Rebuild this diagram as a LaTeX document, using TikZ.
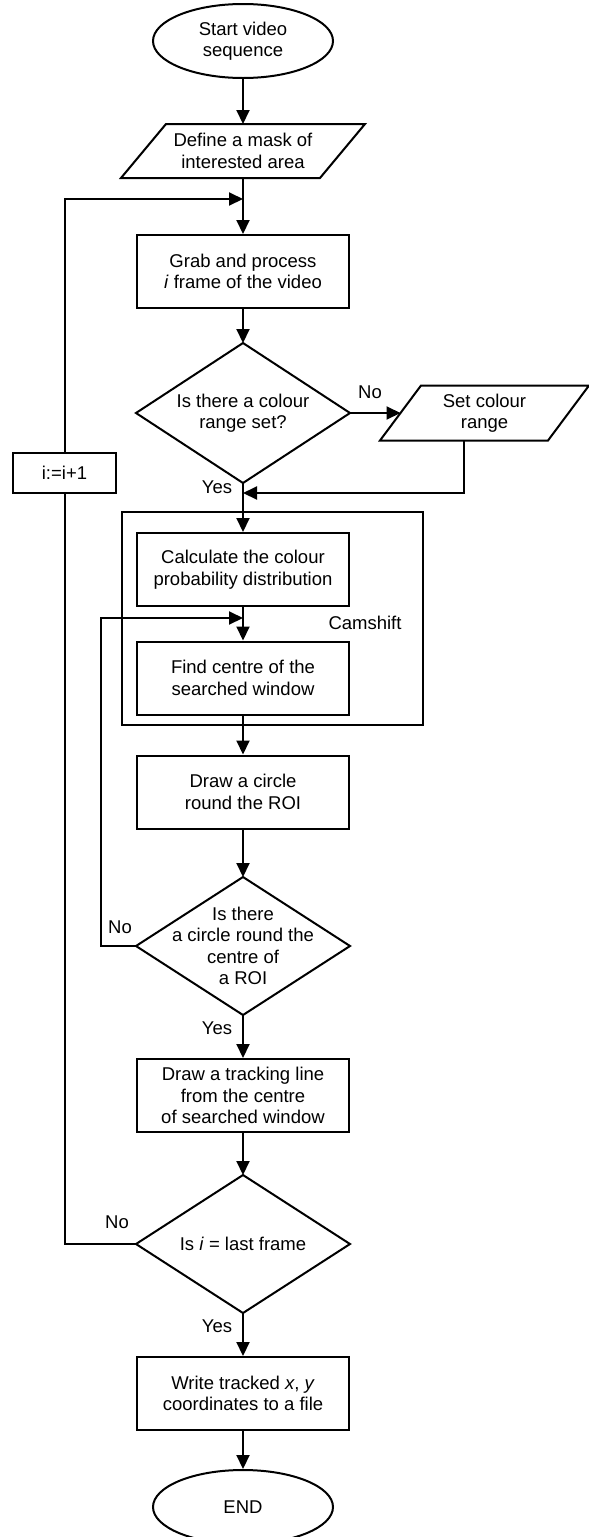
\documentclass[tikz,border=0pt]{standalone}
\usepackage{fontspec}
\setmainfont{Liberation Sans}
\usetikzlibrary{arrows.meta,calc,shapes.geometric}
\begin{document}
\begin{tikzpicture}[x=1pt,y=-1pt, line width=2pt,
  font=\fontsize{18.5}{21.5}\selectfont,
  arr/.style={-{Triangle[length=14pt,width=13pt]}},
  procbox/.style={draw, rectangle, minimum width=212pt, minimum height=73pt, inner sep=0pt, align=center},
  termbox/.style={draw, ellipse, minimum width=180pt, minimum height=74pt, inner sep=0pt, align=center},
  frame/.style={rectangle, inner sep=0pt, align=center},
  lbl/.style={inner sep=0pt}]
\useasboundingbox (0,0) rectangle (589,1537);

% Camshift frame
\node[draw, rectangle, minimum width=301pt, minimum height=213pt, inner sep=0pt] (cam) at (272.5,618.5) {};
\node[lbl] (camlbl) at (365,623) {Camshift};

\node[termbox] (start) at (243,41) {Start video\\sequence};
\node[frame, minimum width=242pt, minimum height=52pt] (mask) at (243,151) {Define a mask of\\interested area};
\draw ($(mask.north west)+(45,0)$) -- (mask.north east) -- ($(mask.south east)+(-45,0)$) -- (mask.south west) -- cycle;

\node[procbox] (grab) at (243,271.5) {Grab and process\\\textit{i} frame of the video};

\node[frame, minimum width=212pt, minimum height=138pt] (d1) at (243,413) {Is there a colour\\range set?};
\draw (d1.north) -- (d1.east) -- (d1.south) -- (d1.west) -- cycle;

\node[frame, minimum width=207pt, minimum height=53pt] (sc) at (484.5,413) {Set colour\\range};
\draw ($(sc.north west)+(41,0)$) -- (sc.north east) -- ($(sc.south east)+(-41,0)$) -- (sc.south west) -- cycle;

\node[procbox] (calc) at (243,569.5) {Calculate the colour\\probability distribution};
\node[procbox] (find) at (243,678) {Find centre of the\\searched window};
\node[procbox] (circ) at (243,792) {Draw a circle\\round the ROI};

\node[frame, minimum width=212pt, minimum height=136pt] (d2) at (243,946) {Is there\\a circle round the\\centre of\\a ROI};
\draw (d2.north) -- (d2.east) -- (d2.south) -- (d2.west) -- cycle;

\node[procbox] (track) at (243,1095.5) {Draw a tracking line\\from the centre\\of searched window};

\node[frame, minimum width=212pt, minimum height=136pt] (d3) at (243,1244) {Is \textit{i} = last frame};
\draw (d3.north) -- (d3.east) -- (d3.south) -- (d3.west) -- cycle;

\node[procbox] (write) at (243,1393.5) {Write tracked \textit{x}, \textit{y}\\coordinates to a file};
\node[termbox] (end) at (243,1507) {END};

\node[draw, rectangle, minimum width=103pt, minimum height=40pt, inner sep=0pt] (inc) at (64.5,473) {i:=i+1};

% labels
\node[lbl] (no1) at (370,392) {No};
\node[lbl] (yes1) at (217,487) {Yes};
\node[lbl] (no2) at (120,927) {No};
\node[lbl] (yes2) at (217,1028) {Yes};
\node[lbl] (no3) at (117,1222) {No};
\node[lbl] (yes3) at (217,1326) {Yes};

% join points
\coordinate (j0) at (243,199);
\coordinate (j1) at (243,493);
\coordinate (j2) at (243,618);
\coordinate (fb) at (101,618);

% connectors
\draw[arr] (start.south) -- (mask.north);
\draw[arr] (mask.south) -- (grab.north);
\draw[arr] (inc.north) |- (j0);
\draw[arr] (grab.south) -- (d1.north);
\draw[arr] (d1.east) -- ($(sc.west)+(20.5,0)$);
\draw[arr] ($(sc.south)+(-20.5,0)$) |- (j1);
\draw[arr] (d1.south) -- (calc.north);
\draw[arr] (calc.south) -- (find.north);
\draw[arr] (d2.west) -| (fb) -- (j2);
\draw[arr] (find.south) -- (circ.north);
\draw[arr] (circ.south) -- (d2.north);
\draw[arr] (d2.south) -- (track.north);
\draw[arr] (track.south) -- (d3.north);
\draw (d3.west) -| (inc.south);
\draw[arr] (d3.south) -- (write.north);
\draw[arr] (write.south) -- (end.north);
\end{tikzpicture}
\end{document}
